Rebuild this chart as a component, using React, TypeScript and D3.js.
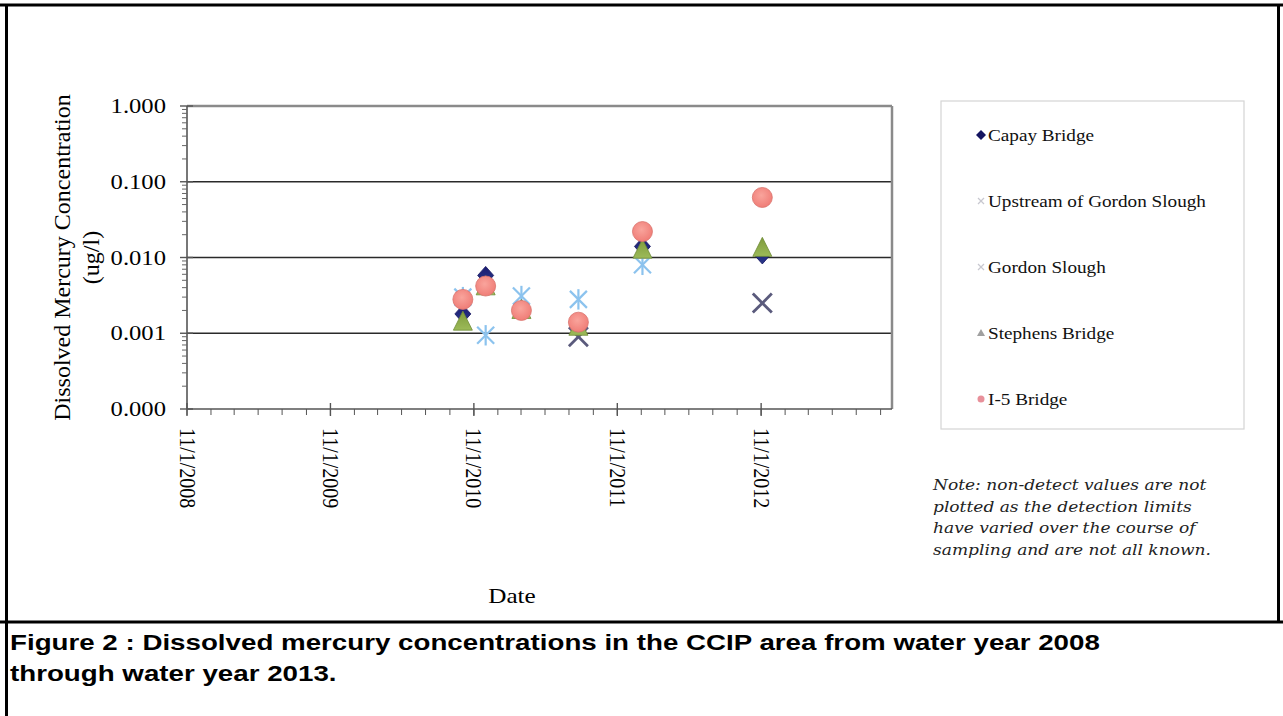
import React from 'react';
import * as d3 from 'd3';

// ---------- DATA ----------
const seriesNames = ['Capay Bridge', 'Upstream of Gordon Slough', 'Gordon Slough', 'Stephens Bridge', 'I-5 Bridge'];

const capayDates = ['2010-10-04', '2010-12-01', '2011-03-02', '2011-07-25', '2012-01-04', '2012-11-04'];
const capayValues = [0.0018, 0.0058, 0.002, 0.0013, 0.014, 0.0108];

const upstreamDates = ['2011-07-25', '2012-11-04'];
const upstreamValues = [0.0009, 0.0025];

const gordonDates = ['2010-10-04', '2010-12-01', '2011-03-02', '2011-07-25', '2012-01-04'];
const gordonValues = [0.003, 0.00094, 0.0031, 0.0028, 0.008];

const stephensDates = ['2010-10-04', '2010-12-01', '2011-03-02', '2011-07-25', '2012-01-04', '2012-11-04'];
const stephensValues = [0.0014, 0.0041, 0.002, 0.0012, 0.0125, 0.0132];

const i5Dates = ['2010-10-04', '2010-12-01', '2011-03-02', '2011-07-25', '2012-01-04', '2012-11-04'];
const i5Values = [0.0028, 0.0042, 0.002, 0.0014, 0.022, 0.062];

const yTickValues = [0.0001, 0.001, 0.01, 0.1, 1];
const gridValues = [0.001, 0.01, 0.1];
const xDomain = ['2008-11-01', '2013-09-30'];
const xMajorStart = '2008-11-01';

const yTitleLines = ['Dissolved Mercury Concentration', '(ug/l)'];
const xTitle = 'Date';
const noteLines = [
  'Note: non-detect values are not',
  'plotted as the detection limits',
  'have varied over the course of',
  'sampling and are not all known.',
];
const captionLines = [
  'Figure 2 : Dissolved mercury concentrations in the CCIP area from water year 2008',
  'through water year 2013.',
];

// ---------- LAYOUT ----------
const W = 1283;
const H = 716;
const plot = { left: 187, right: 892, top: 106, bottom: 409 };
const serif = '"Liberation Serif", "Times New Roman", serif';
const sans = '"Liberation Sans", Arial, sans-serif';

const parse = d3.timeParse('%Y-%m-%d');
const fmt = d3.timeFormat('%-m/%-d/%Y');

const x = d3.scaleTime().domain(xDomain.map((d) => parse(d) as Date)).range([plot.left, plot.right]);
const y = d3.scaleLog().domain([0.0001, 1]).range([plot.bottom, plot.top]);
const yFmt = d3.format('.3f');

const xEnd = parse(xDomain[1]) as Date;
const majorTicks = d3.timeMonth.range(parse(xMajorStart) as Date, xEnd, 12);
const minorTicks = d3.timeMonth.range(parse(xMajorStart) as Date, xEnd, 2);
const yMinorTicks: number[] = [];
for (let e = -4; e < 0; e++) {
  for (let k = 2; k <= 9; k++) yMinorTicks.push(k * Math.pow(10, e));
}

type MarkerKind = 'diamond' | 'x' | 'asterisk' | 'triangle' | 'circle';

function Marker({ kind, cx, cy }: { kind: MarkerKind; cx: number; cy: number }) {
  if (kind === 'diamond') {
    const p = `M${cx},${cy - 9}L${cx + 8},${cy}L${cx},${cy + 9}L${cx - 8},${cy}Z`;
    return <path d={p} fill="url(#gDiamond)" stroke="#141460" strokeWidth={0.8} />;
  }
  if (kind === 'triangle') {
    const p = `M${cx},${cy - 11}L${cx + 9.5},${cy + 8}L${cx - 9.5},${cy + 8}Z`;
    return <path d={p} fill="url(#gTri)" stroke="#6f8c36" strokeWidth={0.8} />;
  }
  if (kind === 'circle') {
    return <circle cx={cx} cy={cy} r={10} fill="url(#gCircle)" stroke="#d9736d" strokeWidth={0.8} />;
  }
  if (kind === 'x') {
    const a = 9.5;
    return (
      <g stroke="#5a5a7c" strokeWidth={2.8}>
        <line x1={cx - a} y1={cy - a} x2={cx + a} y2={cy + a} />
        <line x1={cx - a} y1={cy + a} x2={cx + a} y2={cy - a} />
      </g>
    );
  }
  const a = 8.5;
  return (
    <g stroke="#8cc3ee" strokeWidth={2.2}>
      <line x1={cx - a} y1={cy - a} x2={cx + a} y2={cy + a} />
      <line x1={cx - a} y1={cy + a} x2={cx + a} y2={cy - a} />
      <line x1={cx} y1={cy - a * 1.2} x2={cx} y2={cy + a * 1.2} />
    </g>
  );
}

const series: { name: string; kind: MarkerKind; dates: string[]; values: number[]; legendColor: string }[] = [
  { name: seriesNames[0], kind: 'diamond', dates: capayDates, values: capayValues, legendColor: '#141460' },
  { name: seriesNames[1], kind: 'x', dates: upstreamDates, values: upstreamValues, legendColor: '#c8c8d0' },
  { name: seriesNames[2], kind: 'asterisk', dates: gordonDates, values: gordonValues, legendColor: '#c8c8d0' },
  { name: seriesNames[3], kind: 'triangle', dates: stephensDates, values: stephensValues, legendColor: '#a0a0a0' },
  { name: seriesNames[4], kind: 'circle', dates: i5Dates, values: i5Values, legendColor: '#e8909a' },
];

function LegendMarker({ kind, cx, cy, color }: { kind: MarkerKind; cx: number; cy: number; color: string }) {
  if (kind === 'diamond') return <path d={`M${cx},${cy - 5}L${cx + 5},${cy}L${cx},${cy + 5}L${cx - 5},${cy}Z`} fill={color} />;
  if (kind === 'circle') return <circle cx={cx} cy={cy} r={3.5} fill={color} />;
  if (kind === 'triangle') return <path d={`M${cx},${cy - 4}L${cx + 4},${cy + 3}L${cx - 4},${cy + 3}Z`} fill={color} />;
  return (
    <g stroke={color} strokeWidth={1.2}>
      <line x1={cx - 3} y1={cy - 3} x2={cx + 3} y2={cy + 3} />
      <line x1={cx - 3} y1={cy + 3} x2={cx + 3} y2={cy - 3} />
    </g>
  );
}

export default function App() {
  const legend = { x: 941, y: 101, w: 303, h: 328, rowY0: 135, rowStep: 66, markerX: 981, textX: 988 };
  return (
    <svg width={W} height={H} style={{ position: 'absolute', left: 0, top: 0, background: '#fff' }}>
      <defs>
        <radialGradient id="gCircle" cx="45%" cy="40%" r="65%">
          <stop offset="0%" stopColor="#f9a49c" />
          <stop offset="100%" stopColor="#ef7a74" />
        </radialGradient>
        <linearGradient id="gTri" x1="0" y1="0" x2="0" y2="1">
          <stop offset="0%" stopColor="#7e9b3c" />
          <stop offset="100%" stopColor="#9cba58" />
        </linearGradient>
        <linearGradient id="gDiamond" x1="0" y1="0" x2="0" y2="1">
          <stop offset="0%" stopColor="#1a1a70" />
          <stop offset="100%" stopColor="#2a3a8c" />
        </linearGradient>
      </defs>

      {/* figure frame */}
      <rect x={0} y={0} width={W} height={H} fill="#fff" />
      <line x1={0} y1={5} x2={W} y2={5} stroke="#000" strokeWidth={3} />
      <line x1={6.5} y1={5} x2={6.5} y2={H} stroke="#000" strokeWidth={3} />
      <line x1={1278.5} y1={5} x2={1278.5} y2={622} stroke="#000" strokeWidth={3} />
      <line x1={0} y1={622} x2={W} y2={622} stroke="#000" strokeWidth={3} />

      {/* gridlines */}
      {gridValues.map((v) => (
        <line key={v} x1={plot.left} x2={plot.right} y1={y(v)} y2={y(v)} stroke="#2a2a2a" strokeWidth={1.6} />
      ))}
      {/* plot border top/right */}
      <line x1={plot.left} x2={plot.right} y1={plot.top} y2={plot.top} stroke="#8a8a8a" strokeWidth={2.5} />
      <line x1={plot.right} x2={plot.right} y1={plot.top} y2={plot.bottom} stroke="#8a8a8a" strokeWidth={2.5} />

      {/* y axis */}
      <line x1={plot.left} x2={plot.left} y1={plot.top} y2={plot.bottom} stroke="#555" strokeWidth={1.6} />
      {yMinorTicks.map((v) => (
        <line key={v} x1={plot.left - 5} x2={plot.left} y1={y(v)} y2={y(v)} stroke="#666" strokeWidth={1} />
      ))}
      {yTickValues.map((v) => (
        <g key={v}>
          <line x1={plot.left - 7} x2={plot.left + 6} y1={y(v)} y2={y(v)} stroke="#555" strokeWidth={1.4} />
          <text
            transform={`translate(166,${y(v) + 7}) scale(1.12,1)`}
            textAnchor="end"
            fontFamily={serif}
            fontSize={22}
            fill="#000"
          >
            {yFmt(v)}
          </text>
        </g>
      ))}

      {/* x axis */}
      <line x1={plot.left} x2={plot.right} y1={plot.bottom} y2={plot.bottom} stroke="#555" strokeWidth={1.6} />
      {minorTicks.map((d) => (
        <line key={+d} x1={x(d)} x2={x(d)} y1={plot.bottom} y2={plot.bottom + 6} stroke="#555" strokeWidth={1} />
      ))}
      {majorTicks.map((d) => (
        <g key={+d}>
          <line x1={x(d)} x2={x(d)} y1={plot.bottom - 6} y2={plot.bottom + 7} stroke="#555" strokeWidth={1.4} />
          <text
            transform={`translate(${x(d)},428) scale(1.15,1) rotate(90)`}
            dominantBaseline="central"
            fontFamily={serif}
            fontSize={20}
            fill="#000"
          >
            {fmt(d)}
          </text>
        </g>
      ))}

      {/* axis titles */}
      <text
        transform={`translate(62,${(plot.top + plot.bottom) / 2}) rotate(-90)`}
        textAnchor="middle"
        dominantBaseline="central"
        fontFamily={serif}
        fontSize={24}
      >
        {yTitleLines[0]}
      </text>
      <text
        transform={`translate(91,${(plot.top + plot.bottom) / 2}) rotate(-90)`}
        textAnchor="middle"
        dominantBaseline="central"
        fontFamily={serif}
        fontSize={24}
      >
        {yTitleLines[1]}
      </text>
      <text transform={`translate(512,603) scale(1.2,1)`} textAnchor="middle" fontFamily={serif} fontSize={21}>
        {xTitle}
      </text>

      {/* data */}
      {series.map((s) => (
        <g key={s.name}>
          {s.dates.map((d, i) => (
            <Marker key={i} kind={s.kind} cx={x(parse(d) as Date)} cy={y(s.values[i])} />
          ))}
        </g>
      ))}

      {/* legend */}
      <rect x={legend.x} y={legend.y} width={legend.w} height={legend.h} fill="#fff" stroke="#d4d4d4" strokeWidth={1.2} />
      {series.map((s, i) => {
        const cy = legend.rowY0 + i * legend.rowStep;
        return (
          <g key={s.name}>
            <LegendMarker kind={s.kind} cx={legend.markerX} cy={cy} color={s.legendColor} />
            <text
              transform={`translate(${legend.textX},${cy + 6}) scale(1.2,1)`}
              fontFamily={serif}
              fontSize={16}
              fill="#111"
            >
              {s.name}
            </text>
          </g>
        );
      })}

      {/* note */}
      {noteLines.map((t, i) => (
        <text
          key={i}
          transform={`translate(933,${490 + i * 21.5}) scale(1.1,1)`}
          fontFamily='"DejaVu Serif", serif'
          fontStyle="italic"
          fontSize={15.5}
          fill="#222"
        >
          {t}
        </text>
      ))}

      {/* caption */}
      {captionLines.map((t, i) => (
        <text
          key={i}
          transform={`translate(10,${650 + i * 31}) scale(1.26,1)`}
          fontFamily={sans}
          fontWeight="bold"
          fontSize={22}
          fill="#000"
        >
          {t}
        </text>
      ))}
    </svg>
  );
}
